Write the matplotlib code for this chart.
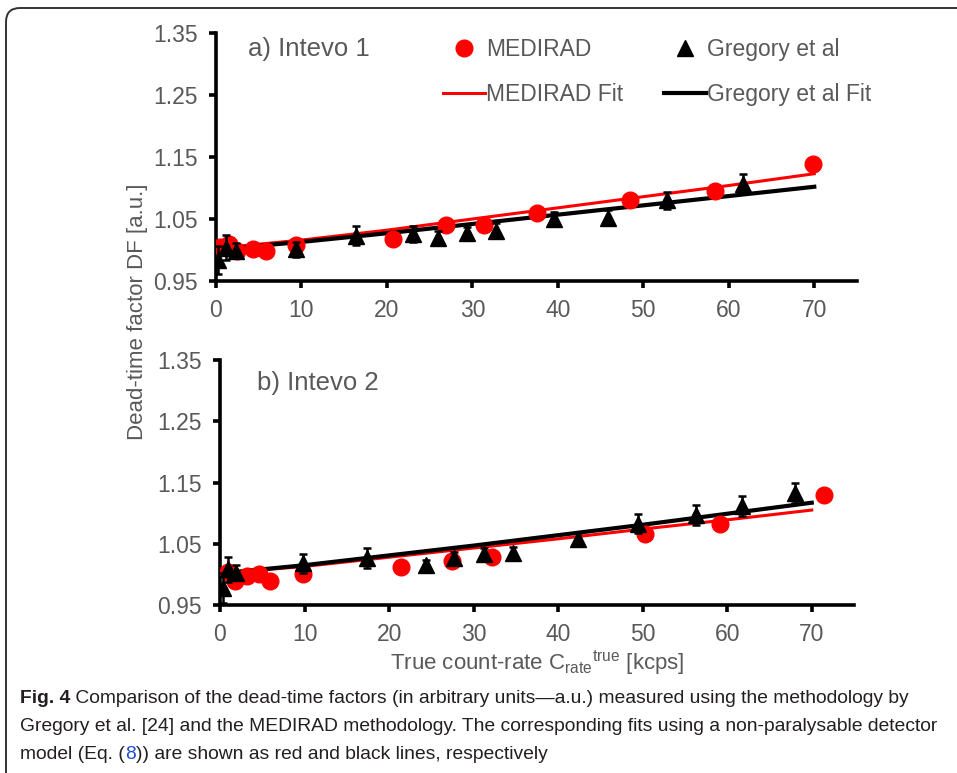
import matplotlib
matplotlib.use("Agg")
import matplotlib.pyplot as plt
from matplotlib.patches import FancyBboxPatch

plt.rcParams['font.family'] = ['Liberation Sans', 'DejaVu Sans']
plt.rcParams['mathtext.fontset'] = 'custom'
plt.rcParams['mathtext.rm'] = 'Liberation Sans'

# ---- panel a) Intevo 1 ----
a_med_x = [0.5, 1.5, 2.5, 4.3, 5.8, 9.4, 20.7, 26.9, 31.3, 37.5, 48.4, 58.4, 69.9]
a_med_y = [1.005, 1.010, 0.998, 1.001, 0.998, 1.008, 1.018, 1.041, 1.041, 1.059, 1.080, 1.095, 1.138]
a_med_err = [0.006] * 12 + [0.010]
a_gre_x = [0.2, 1.2, 2.3, 9.4, 16.4, 23.0, 26.0, 29.4, 32.8, 39.5, 45.9, 52.8, 61.7]
a_gre_y = [0.984, 1.004, 0.999, 1.001, 1.023, 1.026, 1.020, 1.027, 1.031, 1.050, 1.052, 1.080, 1.107]
a_gre_err = [0.022, 0.020, 0.012, 0.012, 0.015, 0.013, 0.010, 0.010, 0.012, 0.012, 0.012, 0.014, 0.016]
a_fit_x = [0.3, 10, 20, 30, 40, 50, 60, 70]
a_medfit_y = [1.003, 1.016, 1.032, 1.050, 1.068, 1.086, 1.104, 1.123]
a_grefit_y = [1.001, 1.013, 1.027, 1.042, 1.057, 1.072, 1.087, 1.102]

# ---- panel b) Intevo 2 ----
b_med_x = [0.9, 1.8, 3.2, 4.6, 5.9, 9.8, 21.4, 27.4, 32.2, 50.3, 59.1, 71.5]
b_med_y = [1.004, 0.990, 0.998, 1.000, 0.990, 1.000, 1.012, 1.022, 1.029, 1.066, 1.083, 1.130]
b_med_err = [0.006] * 11 + [0.010]
b_gre_x = [0.4, 0.9, 1.9, 9.8, 17.4, 24.4, 27.7, 31.2, 34.7, 42.4, 49.5, 56.3, 61.7, 68.0]
b_gre_y = [0.978, 1.008, 1.003, 1.018, 1.027, 1.015, 1.027, 1.033, 1.035, 1.057, 1.083, 1.097, 1.112, 1.133]
b_gre_err = [0.025, 0.020, 0.012, 0.016, 0.016, 0.008, 0.010, 0.010, 0.010, 0.010, 0.016, 0.016, 0.016, 0.016]
b_fit_x = [0.3, 10, 20, 30, 40, 50, 60, 70]
b_medfit_y = [1.002, 1.013, 1.028, 1.043, 1.058, 1.074, 1.089, 1.105]
b_grefit_y = [1.002, 1.015, 1.031, 1.047, 1.064, 1.081, 1.099, 1.117]

yticks = [0.95, 1.05, 1.15, 1.25, 1.35]
xticks = [0, 10, 20, 30, 40, 50, 60, 70]

RED = '#ff0000'
GRAY = '#595959'

fig = plt.figure(figsize=(9.57, 7.73), dpi=100)

# caption frame + caption text live on a full-figure background axes
bg = fig.add_axes([0, 0, 1, 1], zorder=-5)
bg.set_xlim(0, 957)
bg.set_ylim(773, 0)
bg.axis('off')
bg.add_patch(FancyBboxPatch((6, 8), 990, 800, boxstyle='round,pad=0,rounding_size=14',
                            fill=False, edgecolor='#333333', linewidth=1.4, clip_on=False))


def panel(rect, label, lpos, mx, my, merr, gx, gy, gerr, fx, fmy, fgy, show_legend):
    ax = fig.add_axes(rect)
    l1, = ax.plot(fx, fmy, color=RED, lw=2.2, zorder=2, label='MEDIRAD Fit')
    l2, = ax.plot(fx, fgy, color='black', lw=3.0, zorder=2, label='Gregory et al Fit')
    ax.errorbar(mx, my, yerr=merr, fmt='none', ecolor=RED, elinewidth=1.8, capsize=3, capthick=1.8, zorder=3)
    p1, = ax.plot(mx, my, 'o', color=RED, ms=12, zorder=3, label='MEDIRAD')
    ax.errorbar(gx, gy, yerr=gerr, fmt='none', ecolor='black', elinewidth=1.8, capsize=3, capthick=1.8, zorder=4)
    p2, = ax.plot(gx, gy, '^', color='black', ms=11, zorder=4, label='Gregory et al')

    ax.set_xlim(0, 75)
    ax.set_ylim(0.95, 1.35)
    ax.set_xticks(xticks)
    ax.set_yticks(yticks)
    ax.set_yticklabels(['%.2f' % v for v in yticks])
    for s in ['top', 'right']:
        ax.spines[s].set_visible(False)
    for s in ['left', 'bottom']:
        ax.spines[s].set_linewidth(2.6)
    ax.tick_params(axis='both', direction='out', length=5, width=2.6, colors='black',
                   labelcolor=GRAY, labelsize=16.5, pad=8)
    ax.text(lpos[0], lpos[1], label, transform=ax.transAxes, fontsize=18.5, color=GRAY, va='center')
    if show_legend:
        ax.legend([p1, l1, p2, l2], ['MEDIRAD', 'MEDIRAD Fit', 'Gregory et al', 'Gregory et al Fit'],
                  ncol=2, frameon=False, fontsize=16.5, loc='upper left', bbox_to_anchor=(0.354, 0.98),
                  borderpad=0, borderaxespad=0,
                  handlelength=1.85, handletextpad=0.05, columnspacing=1.75, labelspacing=0.97,
                  labelcolor=GRAY)
    return ax


panel([216 / 957, 1 - 281 / 773, 641 / 957, 248 / 773], 'a) Intevo 1', (0.05, 0.935),
      a_med_x, a_med_y, a_med_err, a_gre_x, a_gre_y, a_gre_err,
      a_fit_x, a_medfit_y, a_grefit_y, True)
panel([220 / 957, 1 - 605 / 773, 634 / 957, 245 / 773], 'b) Intevo 2', (0.058, 0.908),
      b_med_x, b_med_y, b_med_err, b_gre_x, b_gre_y, b_gre_err,
      b_fit_x, b_medfit_y, b_grefit_y, False)

fig.text(138 / 957, 1 - 312 / 773, 'Dead-time factor DF [a.u.]', rotation=90,
         ha='center', va='center', fontsize=16, color=GRAY)
fig.text(537 / 957, 1 - 663 / 773,
         r'True count-rate C$_{\mathregular{rate}}$$^{\mathregular{true}}$ [kcps]',
         ha='center', va='center', fontsize=16, color=GRAY)

# caption
CAP = '#231f20'
cs = 13.9
t = bg.text(20, 703, 'Fig. 4', fontsize=cs, fontweight='bold', color=CAP, va='baseline')
bg.annotate(' Comparison of the dead-time factors (in arbitrary units\u2014a.u.) measured using the methodology by',
            xy=(1, 0), xycoords=t, va='bottom', fontsize=cs, color=CAP)
bg.text(20, 731, 'Gregory et al. [24] and the MEDIRAD methodology. The corresponding fits using a non-paralysable detector',
        fontsize=cs, color=CAP, va='baseline')
t = bg.text(20, 759, 'model (Eq. (', fontsize=cs, color=CAP, va='baseline')
t = bg.annotate('8', xy=(1, 0), xycoords=t, va='bottom', fontsize=cs, color='#1f4fd1')
bg.annotate(')) are shown as red and black lines, respectively', xy=(1, 0), xycoords=t,
            va='bottom', fontsize=cs, color=CAP)

fig.savefig('out.png', dpi=100)
